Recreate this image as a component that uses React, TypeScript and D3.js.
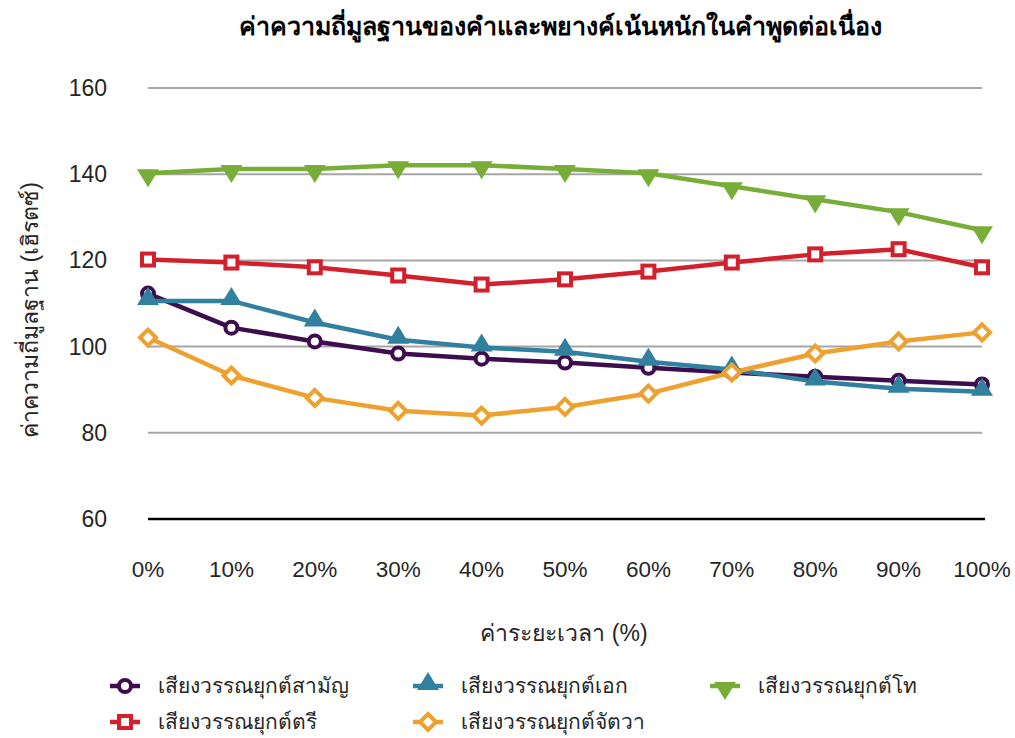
import React, { useEffect, useRef } from 'react';
import * as d3 from 'd3';

const title = 'ค่าความถี่มูลฐานของคำและพยางค์เน้นหนักในคำพูดต่อเนื่อง';
const xTitle = 'ค่าระยะเวลา (%)';
const yTitle = 'ค่าความถี่มูลฐาน (เฮิรตซ์)';

const categories = ['0%', '10%', '20%', '30%', '40%', '50%', '60%', '70%', '80%', '90%', '100%'];
const yTicks = [60, 80, 100, 120, 140, 160];

const mid = [112.3, 104.4, 101.2, 98.4, 97.2, 96.3, 95.1, 94.0, 93.0, 92.1, 91.2];
const low = [110.6, 110.6, 105.6, 101.6, 99.8, 98.8, 96.5, 94.7, 91.9, 90.2, 89.5];
const falling = [140.2, 141.2, 141.2, 142.1, 142.1, 141.2, 140.2, 137.2, 134.2, 131.2, 127.0];
const high = [120.2, 119.5, 118.4, 116.5, 114.4, 115.6, 117.4, 119.5, 121.4, 122.6, 118.4];
const rising = [102.1, 93.3, 88.1, 85.1, 84.0, 86.0, 89.1, 94.0, 98.4, 101.2, 103.3];

type Marker = 'circle' | 'triUp' | 'triDown' | 'square' | 'diamond';

const series: { name: string; values: number[]; color: string; marker: Marker }[] = [
  { name: 'เสียงวรรณยุกต์สามัญ', values: mid, color: '#3d0d4d', marker: 'circle' },
  { name: 'เสียงวรรณยุกต์เอก', values: low, color: '#31809f', marker: 'triUp' },
  { name: 'เสียงวรรณยุกต์โท', values: falling, color: '#78ad38', marker: 'triDown' },
  { name: 'เสียงวรรณยุกต์ตรี', values: high, color: '#d3202d', marker: 'square' },
  { name: 'เสียงวรรณยุกต์จัตวา', values: rising, color: '#eea12e', marker: 'diamond' },
];

const FONT = '"Liberation Sans", "DejaVu Sans", Arial, sans-serif';
const TEXT = '#262626';

const App: React.FC = () => {
  const ref = useRef<SVGSVGElement>(null);

  useEffect(() => {
    if (!ref.current) return;
    const svg = d3.select(ref.current);
    svg.selectAll('*').remove();

    const x = d3.scalePoint<string>().domain(categories).range([148, 982]);
    const y = d3.scaleLinear().domain([60, 160]).range([519, 88]);

    // Title
    svg.append('text')
      .attr('x', 560).attr('y', 35)
      .attr('text-anchor', 'middle')
      .attr('font-family', FONT).attr('font-weight', 'bold').attr('font-size', 25)
      .attr('fill', '#000')
      .text(title);

    // Gridlines
    svg.append('g')
      .selectAll('line')
      .data(yTicks.filter(t => t > 60))
      .enter().append('line')
      .attr('x1', 148).attr('x2', 982)
      .attr('y1', d => y(d)).attr('y2', d => y(d))
      .attr('stroke', '#a6a6a6').attr('stroke-width', 2);

    svg.append('line')
      .attr('x1', 148).attr('x2', 985)
      .attr('y1', y(60)).attr('y2', y(60))
      .attr('stroke', '#000').attr('stroke-width', 2.5);

    // Y tick labels
    svg.append('g')
      .selectAll('text')
      .data(yTicks)
      .enter().append('text')
      .attr('x', 107).attr('y', d => y(d))
      .attr('dy', '0.35em')
      .attr('text-anchor', 'end')
      .attr('font-family', FONT).attr('font-size', 23)
      .attr('fill', TEXT)
      .text(d => String(d));

    // X tick labels
    svg.append('g')
      .selectAll('text')
      .data(categories)
      .enter().append('text')
      .attr('x', d => x(d) as number).attr('y', 577)
      .attr('text-anchor', 'middle')
      .attr('font-family', FONT).attr('font-size', 22.5)
      .attr('fill', TEXT)
      .text(d => d);

    // Axis titles
    svg.append('text')
      .attr('x', 564).attr('y', 641)
      .attr('text-anchor', 'middle')
      .attr('font-family', FONT).attr('font-size', 23)
      .attr('fill', TEXT)
      .text(xTitle);

    svg.append('text')
      .attr('transform', 'translate(38,310) rotate(-90)')
      .attr('text-anchor', 'middle')
      .attr('font-family', FONT).attr('font-size', 23)
      .attr('fill', TEXT)
      .text(yTitle);

    const drawMarker = (g: d3.Selection<SVGGElement, unknown, null, undefined>, m: Marker, color: string) => {
      if (m === 'circle') {
        g.append('circle').attr('r', 6).attr('fill', '#fff').attr('stroke', color).attr('stroke-width', 4);
      } else if (m === 'square') {
        g.append('rect').attr('x', -6).attr('y', -6).attr('width', 12).attr('height', 12)
          .attr('fill', '#fff').attr('stroke', color).attr('stroke-width', 4);
      } else if (m === 'diamond') {
        g.append('path').attr('d', 'M0,-8L8,0L0,8L-8,0Z')
          .attr('fill', '#fff').attr('stroke', color).attr('stroke-width', 4);
      } else if (m === 'triUp') {
        g.append('path').attr('d', 'M0,-14L11,4L-11,4Z').attr('fill', color);
      } else {
        g.append('path').attr('d', 'M0,14L11,-4L-11,-4Z').attr('fill', color);
      }
    };

    const line = d3.line<number>()
      .x((_, i) => x(categories[i]) as number)
      .y(d => y(d));

    series.forEach(s => {
      svg.append('path')
        .datum(s.values)
        .attr('d', line)
        .attr('fill', 'none')
        .attr('stroke', s.color)
        .attr('stroke-width', 4.5)
        .attr('stroke-linejoin', 'round');
    });

    series.forEach(s => {
      s.values.forEach((v, i) => {
        const g = svg.append('g')
          .attr('transform', `translate(${x(categories[i])},${y(v)})`);
        drawMarker(g, s.marker, s.color);
      });
    });

    // Legend
    const legendPos = [
      [125, 686], [428, 686], [725, 686],
      [125, 722], [428, 722],
    ];
    series.forEach((s, i) => {
      const [lx, ly] = legendPos[i];
      svg.append('line')
        .attr('x1', lx - 15).attr('x2', lx + 15)
        .attr('y1', ly).attr('y2', ly)
        .attr('stroke', s.color).attr('stroke-width', 4.5);
      const g = svg.append('g').attr('transform', `translate(${lx},${ly})`);
      drawMarker(g, s.marker, s.color);
      svg.append('text')
        .attr('x', lx + 33).attr('y', ly)
        .attr('dy', '0.35em')
        .attr('font-family', FONT).attr('font-size', 21)
        .attr('fill', TEXT)
        .text(s.name);
    });
  }, []);

  return (
    <svg
      ref={ref}
      width={1015}
      height={738}
      style={{ position: 'absolute', left: 0, top: 0, overflow: 'visible' }}
    />
  );
};

export default App;
